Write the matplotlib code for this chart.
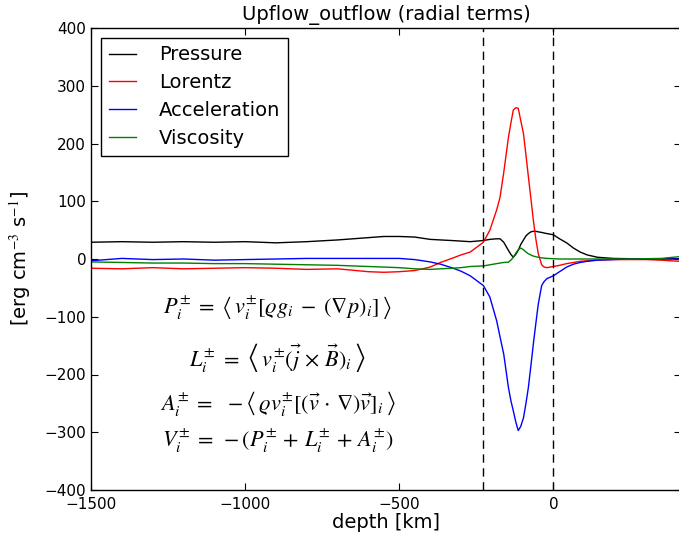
import matplotlib
matplotlib.use("Agg")
import matplotlib.pyplot as plt

depth = [-1500, -1400, -1300, -1200, -1100, -1000, -900, -800, -700, -600, -550, -500,
         -450, -400, -366, -330, -300, -270, -227, -206, -184, -173, -161, -146, -138,
         -130, -122, -114, -106, -97, -89, -81, -73, -65, -57, -49, -38, -30, -21, 0,
         20, 43, 65, 87, 110, 143, 194, 250, 300, 350, 408]

pressure = [29, 30, 29, 30, 29, 30, 28, 30, 33, 37, 39, 39,
            38, 34, 33, 32, 31, 30, 32, 34, 35, 35, 29, 15, 8,
            3, 8, 15, 25, 33, 40, 44, 47, 48, 48, 47, 46, 45, 44, 42,
            35, 28, 19, 12, 7, 3, 1, 0.5, 0.5, 0.5, 0.5]

lorentz = [-16, -17, -15, -17, -16, -15, -16, -18, -17, -22, -23, -22,
           -20, -14, -6, 1, 7, 12, 29, 50, 85, 107, 150, 210, 235,
           258, 262, 261, 240, 217, 180, 142, 105, 67, 35, 9, -10, -14, -15, -13,
           -11, -8, -6, -4, -3, -2, -1, -1, -1, -2, -4]

acceleration = [-3, 1, -1, 0, -2, -1, 0, 1, 1, 1, 1, 1,
                -1, -5, -9, -15, -21, -29, -46, -66, -107, -135, -165, -222, -245,
                -263, -282, -297, -290, -275, -250, -222, -185, -147, -112, -78, -46, -39, -34, -29,
                -22, -14, -9, -6, -4, -2, -1, 0, 0, 0, 0]

viscosity = [-5, -6, -7, -7, -8, -8, -9, -10, -11, -13, -14, -15,
             -17, -18, -17, -16, -15, -13, -12, -10, -8, -7, -6, -5.5, -2,
             3, 10, 16, 19, 16, 12, 9, 7, 5, 4, 3, 2, 1.5, 1, 0.5,
             0, 0, 0, 0, 0, 0, 0, 0, 0.5, 1, 4]

series_labels = ["Pressure", "Lorentz", "Acceleration", "Viscosity"]
series_colors = ["k", "r", "b", "g"]
vlines = [-229, 0]

equations = [
    r'$P_i^{\pm} \;=\; \left\langle\, v_i^{\pm}[\varrho g_i \;-\; (\nabla p)_i]\,\right\rangle$',
    r'$L_i^{\pm} \;=\; \left\langle\, v_i^{\pm}(\vec{j}\,\times\,\vec{B})_i\,\right\rangle$',
    r'$A_i^{\pm} \;=\;\; -\left\langle\, \varrho v_i^{\pm}[(\vec{v}\,\cdot\,\nabla)\vec{v}]_i\,\right\rangle$',
    r'$V_i^{\pm} \;=\; -(P_i^{\pm} \,+\, L_i^{\pm} \,+\, A_i^{\pm})$',
]
eq_y = [-86, -171, -251, -315]

plt.rcParams['mathtext.fontset'] = 'stix'
plt.rcParams['font.family'] = 'DejaVu Sans'

W, H = 679, 539
fig = plt.figure(figsize=(W / 100, H / 100), dpi=100)
ax = fig.add_axes([91 / W, (H - 490) / H, (681 - 91) / W, (490 - 28) / H])

for vals, lab, col in zip([pressure, lorentz, acceleration, viscosity], series_labels, series_colors):
    ax.plot(depth, vals, color=col, lw=1.0, label=lab)

for xv in vlines:
    ax.axvline(xv, color='k', ls=(0, (6, 4)), lw=1.0)

for eq, yv in zip(equations, eq_y):
    ax.text(-894, yv, eq, fontsize=16, ha='center', va='center')

ax.set_xlim(-1500, 414)
ax.set_ylim(-400, 400)
ax.set_xticks([-1500, -1000, -500, 0])
ax.set_yticks(range(-400, 401, 100))
ax.tick_params(direction='in', top=True, right=True, length=5, width=0.8, labelsize=11)
ax.tick_params(axis='x', pad=5)
for s in ax.spines.values():
    s.set_linewidth(1.0)

ax.set_title('Upflow_outflow (radial terms)', fontsize=14)
ax.set_xlabel('depth [km]', fontsize=14, labelpad=1)
ax.set_ylabel(r'[erg cm$^{-3}$ s$^{-1}$]', fontsize=14, labelpad=8)

leg = ax.legend(loc='upper left', fontsize=14, handlelength=1.4, handletextpad=1.2,
                labelspacing=0.45, borderaxespad=0.5, fancybox=False, framealpha=1)
leg.get_frame().set_edgecolor('k')
leg.get_frame().set_linewidth(1.0)

fig.savefig('out.png', dpi=100, facecolor='white')
